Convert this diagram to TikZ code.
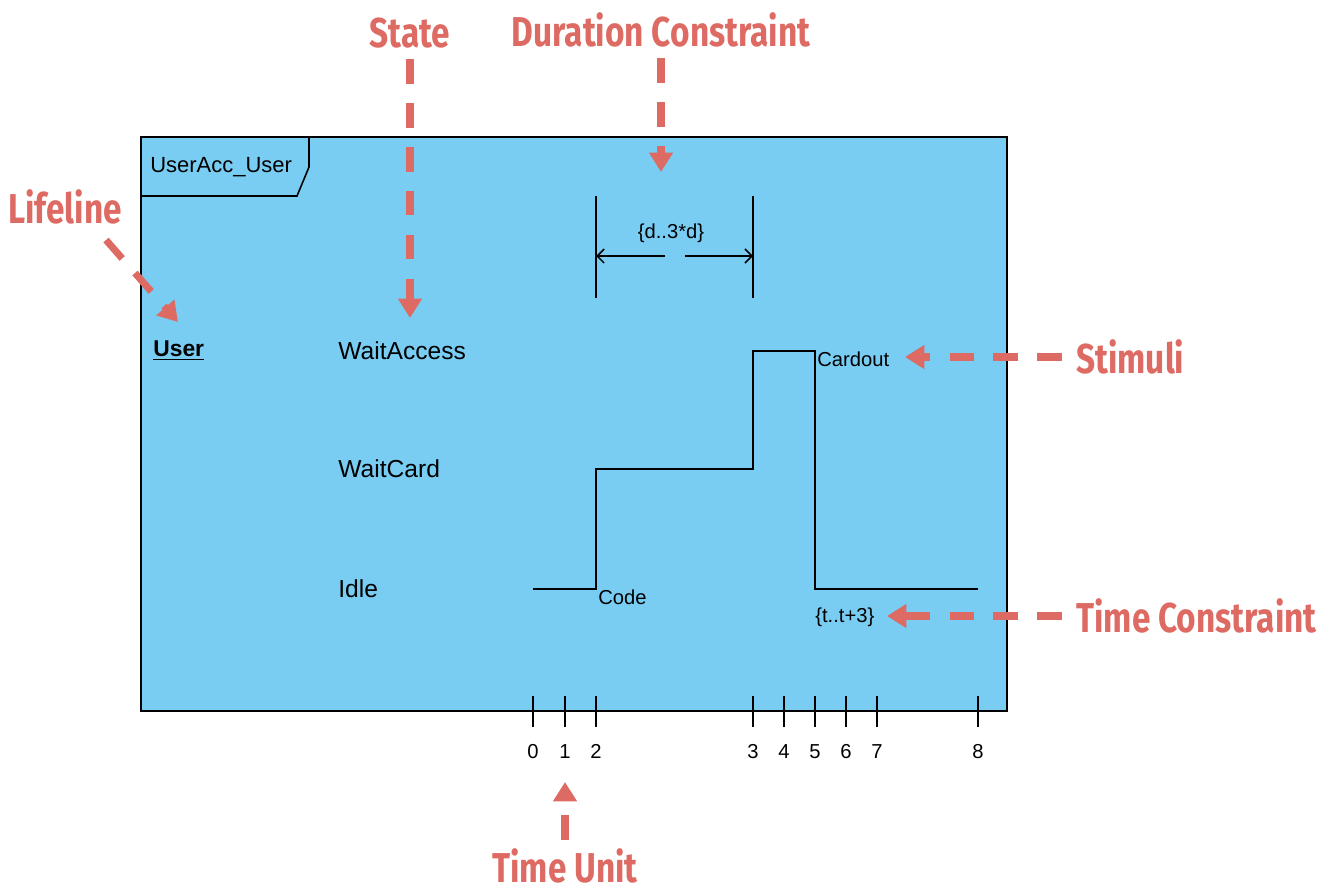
\documentclass[tikz,border=0pt]{standalone}
\usepackage{fontspec}
\setmainfont{Liberation Sans}
\newfontfamily\annfont{Fira Sans}
\usetikzlibrary{arrows.meta, positioning}
\definecolor{tdBlue}{HTML}{79CDF3}
\definecolor{tdRed}{HTML}{DE6B63}
\newcommand{\anntext}[1]{\scalebox{1}[1.25]{#1}}
\tikzset{
  ann/.style={text=tdRed, inner sep=0pt, font=\annfont\bfseries\fontsize{19}{22}\selectfont},
  annarrow/.style={tdRed, line width=4pt, dash pattern=on 14pt off 11pt,
                   -{Triangle[length=11pt,width=13pt]}},
  statelbl/.style={anchor=west, inner sep=0pt, font=\fontsize{14}{16}\selectfont},
  small/.style={inner sep=0pt, font=\fontsize{11.5}{13}\selectfont},
  tick/.style={line width=0.9pt},
  signal/.style={line width=1pt},
}

\begin{document}
\begin{tikzpicture}[x=0.02cm, y=-0.02cm]
    \useasboundingbox (0,0) rectangle (1341,893);
    % frame and tab
    \node[draw, fill=tdBlue, line width=0.9pt, inner sep=0pt,
          minimum width=17.32cm, minimum height=11.48cm] (frame) at (574,424) {};
    \draw[line width=0.9pt] (309,137) -- (309,167) -- (297,196) -- (141,196);
    \node[small, anchor=west, font=\fontsize{12.5}{14}\selectfont] (tabname) at (150,167) {UserAcc\_User};
    % lifeline and states
    \node[statelbl, font=\bfseries\fontsize{13}{15}\selectfont] (user) at (153,351) {\underline{User}};
    \node[statelbl] (waitacc) at (338,351) {WaitAccess};
    \node[statelbl] (waitcard) at (338,469) {WaitCard};
    \node[statelbl] (idle) at (338,589) {Idle};
    % state changes
    \draw[signal] (533,589) -- (596,589) -- (596,469) -- (753,469) -- (753,351)
                  -- (815,351) -- (815,589) -- (978,589);
    \node[small, anchor=west] (code) at (598,597) {Code};
    \node[small, anchor=west] (cardout) at (817,359) {Cardout};
    \node[small, anchor=west] (tcon) at (815,617) {\{t..t+3\}};
    % duration constraint
    \coordinate (dl) at (596,256);
    \coordinate (dr) at (753,256);
    \draw[tick] (596,196) -- (596,298);
    \draw[tick] (753,196) -- (753,298);
    \node[small] (dcon) at (671,233) {\{d..3*d\}};
    \draw[tick, -{Straight Barb[length=4pt,width=8pt]}] (665,256) -- (dl);
    \draw[tick, -{Straight Barb[length=4pt,width=8pt]}] (685,256) -- (dr);
    % time axis
    \foreach \t/\x in {0/533, 1/565, 2/596, 3/753, 4/784, 5/815, 6/846, 7/877, 8/978} {
      \draw[tick] (\x,696) -- (\x,727);
      \node[small, anchor=base] (t\t) at (\x,758) {\t};
    }
    % annotations
    \node[ann] (lifelinelbl) at (65,207) {\anntext{Lifeline}};
    \node[ann] (statelbl) at (410,33) {\anntext{State}};
    \node[ann] (durlbl) at (661,30) {\anntext{Duration Constraint}};
    \node[ann, anchor=west] (stimlbl) at (1076,357) {\anntext{Stimuli}};
    \node[ann, anchor=west] (tconlbl) at (1076,616) {\anntext{Time Constraint}};
    \node[ann] (unitlbl) at (565,866) {\anntext{Time Unit}};
    \coordinate (lifetail) at (106,240);
    \coordinate (lifetip) at (178,322);
    \coordinate (statetip) at (410,318);
    \coordinate (durtip) at (661,172);
    \coordinate (stimtip) at (905,357);
    \coordinate (tcontip) at (887,616);
    \coordinate (unittip) at (565,782);
    \draw[annarrow] (lifetail) -- (lifetip);
    \draw[annarrow, shorten <=6pt] (statelbl.south) -- (statetip);
    \draw[annarrow, shorten <=6pt] (durlbl.south) -- (durtip);
    \draw[annarrow, shorten <=8pt] (stimlbl.west) -- (stimtip);
    \draw[annarrow, shorten <=8pt] (tconlbl.west) -- (tcontip);
    \draw[annarrow, shorten <=5pt] (unitlbl.north) -- (unittip);
\end{tikzpicture}
\end{document}
